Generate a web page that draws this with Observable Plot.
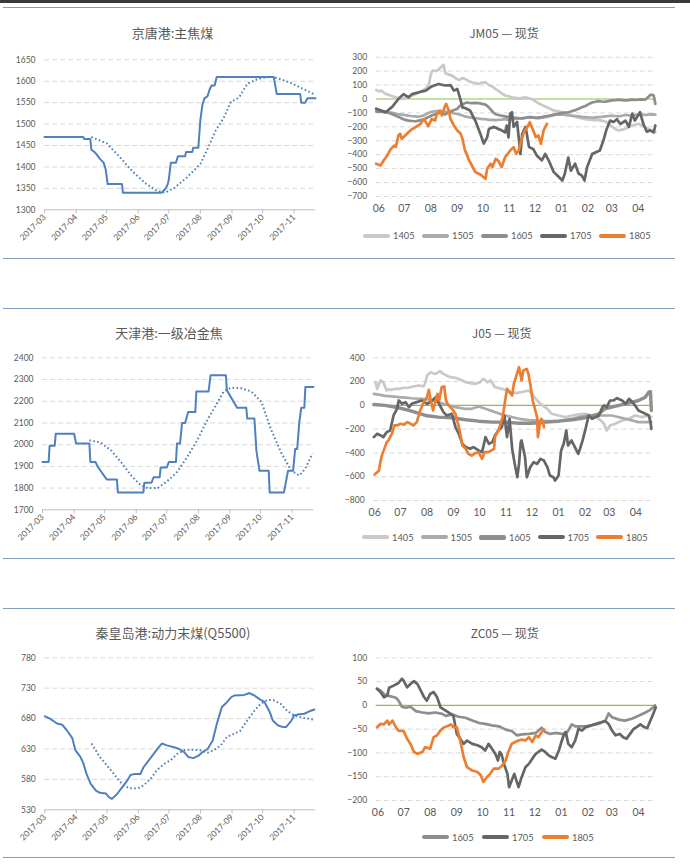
<!DOCTYPE html>
<html><head><meta charset="utf-8">
<script src="https://cdn.jsdelivr.net/npm/d3@7"></script>
<script src="https://cdn.jsdelivr.net/npm/@observablehq/plot@0.6"></script>
<style>
body{margin:0;background:#fff;font-family:Lato,"Noto Sans CJK SC",sans-serif;}
#page{position:relative;width:690px;height:868px;overflow:hidden;background:#fff;}
.topband{position:absolute;left:0;top:0;width:690px;height:3px;background:#3a3a3a;}
.sep{position:absolute;left:3px;width:672px;height:0;border-top:1.5px solid #7f9dbf;}
.title{position:absolute;transform:translateX(-50%);color:#595959;white-space:nowrap;font-family:"Noto Sans CJK SC",sans-serif;line-height:16px;}
.panel{position:absolute;}
.legend{position:absolute;display:flex;align-items:center;height:12px;font-family:Lato,sans-serif;font-size:9.3px;color:#595959;}
.legend .item{display:inline-flex;align-items:center;}
.legend .sw{display:inline-block;width:27px;height:4px;border-radius:2px;margin-right:3px;}
</style>
</head><body>
<div id="page"><div class="topband"></div></div>
<script>
// ---------- left panels: dates (2017, MM-DD) and prices ----------
const leftMonthLabels = ["2017-03","2017-04","2017-05","2017-06","2017-07","2017-08","2017-09","2017-10","2017-11"];

const jtTicks = [1300,1350,1400,1450,1500,1550,1600,1650];
const jtSpot = [["03-01",1470],["04-08",1470],["04-09",1465],["04-15",1465],["04-16",1440],["04-19",1435],["04-21",1430],["04-24",1420],["04-28",1410],["04-30",1395],["05-02",1360],["05-16",1360],["05-17",1340],["06-24",1340],["06-26",1345],["06-28",1350],["06-30",1360],["07-01",1370],["07-03",1410],["07-08",1410],["07-10",1425],["07-17",1425],["07-18",1435],["07-24",1435],["07-25",1445],["07-30",1445],["08-01",1510],["08-03",1545],["08-05",1560],["08-08",1565],["08-10",1580],["08-12",1590],["08-15",1590],["08-17",1610],["10-12",1610],["10-15",1570],["11-07",1570],["11-08",1550],["11-12",1550],["11-14",1560],["11-22",1560]];
const jtAvg = [["04-16",1470],["05-01",1455],["05-14",1423],["05-27",1388],["06-09",1360],["06-19",1345],["06-27",1340],["07-06",1350],["07-19",1376],["08-01",1407],["08-08",1442],["08-16",1485],["08-24",1515],["08-31",1552],["09-08",1562],["09-16",1594],["09-26",1605],["10-06",1610],["10-12",1610],["10-29",1596],["11-22",1568]];

const tjTicks = [1700,1800,1900,2000,2100,2200,2300,2400];
const tjSpot = [["03-01",1920],["03-07",1920],["03-08",1995],["03-13",1995],["03-14",2050],["04-01",2050],["04-03",2005],["04-16",2005],["04-17",1920],["04-22",1920],["04-24",1900],["04-27",1880],["04-30",1860],["05-03",1840],["05-13",1840],["05-14",1780],["06-08",1780],["06-09",1825],["06-16",1825],["06-18",1850],["06-24",1850],["06-25",1895],["07-01",1895],["07-03",1920],["07-10",1920],["07-11",2005],["07-14",2005],["07-16",2100],["07-19",2100],["07-22",2150],["07-29",2150],["07-30",2245],["08-11",2245],["08-13",2320],["08-28",2320],["08-29",2250],["09-08",2170],["09-17",2170],["09-18",2120],["09-25",2120],["09-27",1970],["09-30",1880],["10-09",1880],["10-10",1780],["10-24",1780],["10-28",1880],["11-02",1880],["11-04",1980],["11-06",1980],["11-08",2100],["11-10",2170],["11-13",2170],["11-14",2265],["11-22",2265]];
const tjAvg = [["04-16",2020],["04-27",2010],["05-07",1975],["05-17",1920],["05-27",1858],["06-05",1815],["06-12",1800],["06-22",1800],["07-01",1830],["07-11",1873],["07-21",1943],["07-31",2022],["08-10",2115],["08-20",2196],["08-26",2246],["09-02",2262],["09-12",2260],["09-22",2245],["10-02",2196],["10-11",2073],["10-21",1966],["10-31",1881],["11-08",1858],["11-14",1890],["11-21",1960]];

const qhdTicks = [530,580,630,680,730,780];
const qhdSpot = [["03-01",684],["03-06",680],["03-13",672],["03-18",670],["03-23",660],["03-28",648],["03-31",628],["04-05",617],["04-08",606],["04-11",589],["04-15",573],["04-20",562],["04-24",558],["04-30",557],["05-03",551],["05-06",548],["05-11",556],["05-16",567],["05-21",578],["05-24",587],["05-28",589],["06-03",589],["06-06",600],["06-11",611],["06-16",622],["06-21",633],["06-24",639],["06-29",636],["07-06",633],["07-11",630],["07-16",625],["07-20",617],["07-25",615],["07-30",619],["08-03",625],["08-08",630],["08-13",644],["08-17",671],["08-22",699],["08-27",707],["08-31",715],["09-03",718],["09-13",719],["09-18",722],["09-23",718],["09-28",712],["10-03",707],["10-08",691],["10-11",677],["10-16",669],["10-21",666],["10-24",666],["10-29",676],["11-01",685],["11-06",687],["11-11",688],["11-16",692],["11-21",695]];
const qhdAvg = [["04-16",639],["04-24",617],["05-05",595],["05-14",576],["05-22",566],["05-31",565],["06-06",570],["06-13",581],["06-19",595],["06-26",605],["07-03",612],["07-09",622],["07-16",628],["07-22",629],["08-01",628],["08-08",624],["08-14",628],["08-21",636],["08-27",650],["09-03",655],["09-09",660],["09-16",677],["09-23",693],["09-29",704],["10-06",711],["10-12",710],["10-19",704],["10-25",693],["11-01",685],["11-11",681],["11-21",678]];

// ---------- right panels: [days since 1 June, basis] ----------
const rightMonthLabels = ["06","07","08","09","10","11","12","01","02","03","04"];
const rightMonthDays = [0,30,61,92,122,153,183,214,245,273,304];

const jmTicks = [-700,-600,-500,-400,-300,-200,-100,0,100,200,300];
const jm1405 = [[-3,65],[0,55],[3,60],[6,45],[9,35],[12,28],[16,20],[20,12],[24,5],[27,0],[31,8],[35,15],[39,25],[43,35],[47,45],[51,60],[54,70],[57,85],[59,110],[60,150],[62,195],[64,205],[67,200],[70,210],[73,230],[76,245],[77,215],[78,185],[82,175],[86,168],[90,150],[94,135],[98,150],[101,145],[105,130],[109,120],[113,115],[117,108],[121,118],[125,120],[129,100],[133,90],[137,70],[140,58],[144,40],[148,25],[152,20],[156,12],[160,8],[164,5],[168,8],[172,12],[176,5],[179,0],[183,-15],[187,-30],[191,-42],[195,-54],[199,-65],[203,-78],[207,-85],[211,-88],[215,-95],[218,-100],[222,-110],[226,-120],[230,-128],[234,-135],[238,-140],[242,-145],[246,-148],[250,-150],[254,-152],[257,-150],[261,-155],[265,-160],[269,-175],[273,-197],[277,-215],[281,-226],[285,-220],[289,-214],[293,-200],[296,-190],[300,-185],[304,-178],[308,-190],[312,-202],[316,-215],[320,-226],[324,-238]];
const jm1505 = [[-3,-75],[4,-85],[8,-90],[12,-95],[16,-100],[22,-108],[27,-112],[33,-118],[37,-122],[43,-125],[47,-128],[51,-120],[55,-112],[58,-100],[62,-92],[66,-88],[70,-85],[74,-95],[78,-90],[82,-98],[86,-100],[90,-106],[94,-110],[98,-118],[101,-125],[105,-130],[109,-135],[113,-138],[117,-140],[121,-145],[125,-145],[129,-150],[133,-150],[137,-152],[140,-150],[144,-148],[148,-145],[152,-150],[156,-148],[160,-142],[164,-140],[168,-138],[172,-135],[176,-132],[179,-130],[183,-135],[187,-140],[191,-135],[195,-130],[199,-125],[203,-120],[207,-112],[211,-110],[215,-112],[218,-115],[222,-118],[226,-120],[230,-122],[234,-125],[238,-128],[242,-130],[246,-132],[250,-135],[254,-132],[257,-130],[261,-128],[265,-125],[269,-122],[273,-120],[277,-122],[281,-125],[285,-120],[289,-115],[293,-118],[296,-120],[300,-115],[304,-110],[308,-112],[312,-115],[316,-112],[320,-110],[324,-112]];
const jm1605 = [[-3,-90],[4,-92],[8,-95],[12,-100],[16,-110],[22,-125],[27,-140],[31,-150],[35,-155],[39,-158],[43,-160],[47,-155],[51,-150],[55,-140],[58,-130],[62,-118],[66,-110],[70,-100],[74,-105],[78,-110],[82,-95],[86,-85],[90,-75],[92,-70],[95,-50],[98,-40],[101,-30],[103,-25],[106,-28],[109,-30],[113,-28],[117,-30],[121,-35],[125,-40],[128,-55],[131,-75],[134,-95],[137,-110],[140,-115],[144,-120],[148,-125],[152,-130],[156,-132],[160,-135],[164,-138],[168,-140],[172,-135],[176,-130],[180,-132],[184,-135],[188,-132],[191,-130],[195,-125],[199,-120],[203,-115],[207,-110],[211,-105],[215,-100],[218,-98],[222,-95],[226,-88],[230,-80],[234,-70],[238,-60],[242,-50],[245,-40],[248,-30],[250,-25],[254,-20],[257,-15],[261,-18],[265,-20],[269,-15],[273,-10],[277,-8],[281,-5],[285,-8],[289,-10],[293,-8],[296,-5],[300,-6],[304,-5],[308,-3],[312,-5],[314,5],[316,15],[318,30],[320,30],[322,25],[324,-35]];
const jm1705 = [[-3,-70],[8,-95],[16,-55],[23,0],[29,35],[35,12],[39,35],[47,48],[55,60],[62,90],[70,108],[78,97],[84,100],[88,60],[92,72],[96,-10],[98,-60],[101,-65],[107,-83],[113,-155],[119,-250],[123,-320],[127,-275],[129,-215],[135,-200],[140,-215],[144,-225],[148,-240],[150,-190],[152,-275],[154,-105],[156,-95],[158,-200],[162,-165],[166,-395],[168,-250],[172,-200],[176,-345],[181,-360],[185,-405],[191,-440],[195,-395],[199,-440],[205,-525],[211,-560],[215,-585],[218,-535],[222,-420],[225,-515],[230,-465],[234,-535],[238,-550],[241,-585],[244,-490],[250,-395],[255,-380],[259,-370],[263,-300],[267,-215],[271,-155],[275,-165],[279,-145],[283,-180],[289,-155],[293,-200],[297,-105],[300,-155],[306,-95],[310,-180],[314,-235],[318,-225],[322,-240],[324,-190]];
const jm1805 = [[-3,-465],[2,-477],[6,-440],[10,-405],[14,-360],[18,-335],[20,-345],[23,-262],[25,-250],[27,-285],[31,-262],[37,-226],[43,-202],[49,-178],[53,-143],[58,-197],[62,-143],[66,-155],[68,-107],[72,-83],[74,-119],[77,-59],[79,-35],[82,-83],[84,-143],[88,-190],[92,-226],[96,-250],[98,-286],[101,-370],[103,-394],[105,-430],[109,-477],[113,-525],[119,-542],[125,-573],[127,-501],[131,-465],[133,-489],[137,-430],[140,-442],[144,-489],[148,-418],[154,-370],[158,-346],[161,-394],[164,-370],[167,-298],[170,-238],[174,-202],[176,-178],[177,-167],[181,-226],[184,-274],[187,-262],[190,-322],[193,-226],[197,-178]];

const jTicks = [-800,-600,-400,-200,0,200,400];
const j1405 = [[1,195],[3,139],[5,180],[7,209],[9,200],[10,195],[12,160],[14,125],[16,135],[20,131],[24,140],[28,139],[34,148],[40,150],[45,159],[51,167],[57,160],[59,190],[61,251],[65,279],[68,270],[71,265],[76,288],[78,275],[80,265],[86,243],[90,235],[94,232],[100,215],[106,195],[111,187],[117,181],[123,195],[125,215],[127,223],[131,195],[135,209],[140,153],[148,139],[156,120],[164,103],[171,111],[179,125],[183,97],[189,41],[195,0],[201,-30],[206,-71],[214,-85],[222,-99],[230,-85],[237,-76],[245,-71],[253,-85],[261,-113],[267,-155],[270,-211],[274,-169],[280,-155],[288,-127],[296,-113],[303,-85],[311,-99],[319,-85],[322,-99]];
const j1505 = [[-1,97],[5,90],[12,80],[20,75],[28,69],[36,65],[43,60],[55,55],[63,50],[74,27],[82,10],[94,-15],[100,-22],[106,-29],[113,-29],[121,-10],[129,-29],[140,-57],[152,-85],[168,-113],[183,-127],[199,-133],[214,-133],[230,-113],[245,-85],[261,-85],[276,-85],[292,-113],[307,-141],[322,-141]];
const j1605 = [[-1,7],[12,0],[28,-20],[43,-48],[59,-85],[74,-99],[90,-104],[106,-121],[121,-133],[137,-141],[152,-141],[168,-150],[183,-150],[199,-141],[214,-133],[230,-121],[245,-104],[261,-71],[268,-29],[276,-15],[284,0],[292,13],[300,27],[307,41],[315,69],[319,111],[321,115],[322,-43]];
const j1705 = [[-1,-267],[3,-239],[7,-253],[10,-267],[14,-225],[18,-211],[22,-85],[26,-29],[28,41],[32,13],[36,27],[40,-15],[43,13],[49,27],[55,41],[61,13],[67,41],[71,69],[74,27],[80,-57],[84,-85],[90,-71],[94,-183],[98,-239],[102,-323],[106,-351],[111,-365],[115,-351],[121,-379],[125,-393],[129,-267],[133,-323],[137,-309],[140,-253],[144,-211],[148,-183],[151,-85],[154,-267],[157,-113],[160,-365],[163,-492],[166,-604],[168,-492],[170,-309],[171,-295],[175,-436],[177,-604],[181,-520],[185,-478],[189,-492],[193,-450],[197,-464],[201,-520],[204,-590],[208,-604],[210,-632],[214,-590],[217,-379],[220,-323],[223,-211],[225,-337],[229,-295],[233,-351],[237,-407],[239,-365],[242,-295],[245,-211],[249,-85],[253,-113],[257,-99],[261,-85],[265,-15],[267,0],[270,-15],[274,41],[278,41],[282,60],[288,41],[292,13],[296,55],[300,27],[303,0],[307,-43],[311,-57],[315,-71],[319,-85],[321,-141],[322,-197]];
const j1805 = [[0,-581],[3,-562],[5,-548],[7,-464],[9,-408],[12,-351],[14,-309],[16,-295],[20,-239],[23,-169],[26,-169],[30,-155],[34,-162],[38,-141],[42,-155],[45,-169],[49,-141],[53,-43],[57,27],[61,69],[63,131],[65,55],[68,-43],[71,41],[73,97],[75,41],[78,153],[81,159],[83,41],[86,0],[90,-29],[94,-71],[98,-183],[100,-253],[102,-337],[106,-365],[109,-408],[113,-422],[117,-402],[121,-393],[125,-450],[128,-393],[132,-393],[136,-379],[139,-365],[140,-267],[144,-211],[146,-169],[149,-99],[151,0],[154,139],[157,111],[160,83],[162,181],[165,251],[168,321],[171,209],[173,293],[177,307],[179,265],[181,181],[184,41],[187,-43],[189,-99],[190,-267],[192,-169],[194,-113],[196,-141],[197,-183]];

const zcTicks = [-200,-150,-100,-50,0,50,100];
const zc1605 = [[-1,35],[3,31],[9,21],[15,19],[21,16],[24,10],[28,-3],[32,-5],[38,-3],[44,-12],[52,-15],[59,-17],[67,-15],[75,-18],[79,-22],[87,-19],[94,-24],[102,-26],[110,-32],[118,-37],[125,-39],[133,-42],[141,-44],[149,-51],[156,-54],[162,-63],[168,-61],[176,-60],[184,-58],[191,-47],[195,-56],[201,-60],[207,-58],[215,-60],[218,-63],[222,-53],[226,-40],[230,-44],[234,-44],[242,-44],[249,-42],[257,-39],[265,-33],[269,-17],[273,-25],[281,-30],[288,-32],[296,-28],[304,-22],[312,-15],[317,-10],[321,-4],[323,0]];
const zc1705 = [[-1,35],[3,28],[7,17],[11,21],[13,37],[19,42],[24,47],[28,56],[30,52],[34,38],[38,45],[42,51],[46,45],[50,31],[54,17],[57,10],[61,24],[65,28],[69,17],[73,-4],[79,-11],[85,-18],[88,-22],[92,-60],[96,-70],[100,-81],[104,-74],[110,-81],[116,-84],[121,-88],[125,-95],[129,-81],[133,-91],[137,-102],[140,-116],[142,-98],[144,-102],[147,-123],[151,-144],[153,-172],[156,-158],[159,-144],[162,-161],[164,-172],[167,-154],[172,-130],[176,-123],[180,-112],[184,-102],[187,-98],[191,-93],[195,-98],[199,-105],[203,-109],[207,-112],[211,-95],[214,-77],[217,-60],[219,-56],[222,-81],[226,-88],[230,-74],[234,-49],[238,-53],[242,-46],[249,-42],[257,-37],[265,-33],[269,-39],[273,-53],[277,-63],[282,-60],[286,-67],[290,-70],[294,-60],[298,-50],[302,-45],[306,-40],[310,-45],[314,-48],[317,-35],[321,-18],[324,-4]];
const zc1805 = [[-1,-46],[3,-39],[7,-40],[11,-32],[13,-40],[17,-32],[21,-46],[24,-53],[30,-54],[34,-70],[38,-81],[42,-98],[46,-102],[52,-98],[55,-88],[61,-91],[65,-67],[69,-63],[73,-53],[77,-46],[81,-44],[85,-40],[88,-46],[92,-46],[96,-74],[100,-109],[104,-130],[110,-137],[116,-140],[120,-147],[123,-161],[127,-151],[131,-144],[135,-133],[141,-133],[145,-126],[149,-116],[152,-98],[156,-81],[160,-77],[164,-74],[168,-72],[172,-74],[176,-67],[180,-77],[184,-63],[187,-67],[191,-56],[194,-51]];

// ---------- drawing ----------
const page = document.getElementById("page");
const BLUE = "#4f80bf";
const GRAY = {"1405":"#c9c9c9","1505":"#ababab","1605":"#8e8e8e","1705":"#666666","1805":"#ed7d31"};

function add(el, css) { Object.assign(el.style, css); page.appendChild(el); return el; }
function sep(y) { const d = document.createElement("div"); d.className = "sep"; add(d, {top: y + "px"}); }
[7, 258, 308, 558, 608, 857].forEach(sep);

function title(text, cx, cy, size) {
  const d = document.createElement("div"); d.className = "title"; d.textContent = text;
  add(d, {left: cx + "px", top: (cy - 8) + "px", fontSize: size + "px"});
}

const parseLeft = s => new Date(2017, +s.slice(0, 2) - 1, +s.slice(3, 5));

function leftChart(pos, solid, avg, ticks, m) {
  const xTicks = leftMonthLabels.map(s => new Date(+s.slice(0, 4), +s.slice(5, 7) - 1, 1));
  const svg = Plot.plot({
    width: 330, height: m.h, marginTop: m.t, marginBottom: m.b, marginLeft: m.l, marginRight: m.r,
    style: {background: "transparent", fontFamily: "Lato, sans-serif", fontSize: "8.5px", color: "#595959", overflow: "visible"},
    x: {type: "time", domain: [new Date(2017, 2, 1), new Date(2017, 10, 22)]},
    y: {domain: [ticks[0], ticks[ticks.length - 1]]},
    marks: [
      Plot.gridY(ticks.slice(1), {stroke: "#d9d9d9", strokeOpacity: 1, strokeDasharray: "5,3"}),
      Plot.ruleY([ticks[0]], {stroke: "#bfbfbf"}),
      Plot.axisY(ticks, {tickSize: 0, tickPadding: 9, label: null, fill: "#595959", fontSize: 8.5, tickFormat: d3.format("d")}),
      Plot.axisX(xTicks, {tickSize: 4, tickPadding: 2, tickRotate: -45, tickFormat: d3.timeFormat("%Y-%m"), label: null, stroke: "#bfbfbf", fill: "#595959", fontSize: 8.5}),
      Plot.line(avg, {x: d => parseLeft(d[0]), y: d => d[1], stroke: BLUE, strokeWidth: 2, strokeDasharray: "1.6,2.4", strokeLinecap: "butt"}),
      Plot.line(solid, {x: d => parseLeft(d[0]), y: d => d[1], stroke: BLUE, strokeWidth: 2, strokeLinejoin: "round"})
    ]
  });
  svg.classList.add("panel");
  add(svg, {left: pos[0] + "px", top: pos[1] + "px"});
}

function rightChart(pos, series, ticks, xDomain, m) {
  const svg = Plot.plot({
    width: 330, height: m.h, marginTop: m.t, marginBottom: m.b, marginLeft: m.l, marginRight: m.r,
    style: {background: "transparent", fontFamily: "Lato, sans-serif", fontSize: "8.6px", color: "#595959", overflow: "visible"},
    x: {domain: xDomain},
    y: {domain: [ticks[0], ticks[ticks.length - 1]]},
    marks: [
      Plot.gridY(ticks.filter(t => t !== 0), {stroke: "#d9d9d9", strokeOpacity: 1, strokeDasharray: "5,3"}),
      Plot.axisY(ticks, {tickSize: 0, tickPadding: 9, label: null, fill: "#595959", fontSize: 8.6}),
      Plot.axisX(rightMonthDays, {tickSize: 0, tickPadding: 8, label: null, fill: "#595959", fontSize: 10.5,
        tickFormat: d => rightMonthLabels[rightMonthDays.indexOf(d)]}),
      Plot.ruleY([0], {stroke: "#8cc04e", strokeWidth: 1.2}),
      ...series.map(s => Plot.line(s.data, {x: d => d[0], y: d => d[1], stroke: GRAY[s.name], strokeWidth: s.w || 2.7, strokeLinejoin: "round"}))
    ]
  });
  svg.classList.add("panel");
  add(svg, {left: pos[0] + "px", top: pos[1] + "px"});
}

function legend(names, left, cy, pitch, widths) {
  const d = document.createElement("div"); d.className = "legend";
  names.forEach((n, i) => {
    const it = document.createElement("span"); it.className = "item"; it.style.width = pitch + "px";
    const sw = document.createElement("span"); sw.className = "sw"; sw.style.background = GRAY[n];
    if (widths && widths[i]) sw.style.height = widths[i] + "px";
    const tx = document.createElement("span"); tx.textContent = n;
    it.appendChild(sw); it.appendChild(tx); d.appendChild(it);
  });
  add(d, {left: left + "px", top: (cy - 6) + "px"});
}

// Row 1
title("京唐港:主焦煤", 172.5, 33, 13);
leftChart([0, 50], jtSpot, jtAvg, jtTicks, {h: 215, t: 9.3, b: 55.7, l: 44, r: 15});
title("JM05 — 现货", 504, 33, 12);
rightChart([345, 45], [
  {name: "1405", data: jm1405}, {name: "1505", data: jm1505}, {name: "1605", data: jm1605},
  {name: "1705", data: jm1705}, {name: "1805", data: jm1805}
], jmTicks, [-3, 325], {h: 175, t: 11.7, b: 24, l: 30.7, r: 19.3});
legend(["1405","1505","1605","1705","1805"], 363, 235.5, 59);

// Row 2
title("天津港:一级冶金焦", 169, 333, 13);
leftChart([0, 350], tjSpot, tjAvg, tjTicks, {h: 215, t: 7.3, b: 55.7, l: 42, r: 17});
title("J05 — 现货", 501.7, 333, 12);
rightChart([345, 345], [
  {name: "1405", data: j1405}, {name: "1505", data: j1505}, {name: "1605", data: j1605, w: 3.4},
  {name: "1705", data: j1705}, {name: "1805", data: j1805}
], jTicks, [-1, 323], {h: 180, t: 12.3, b: 25, l: 28.3, r: 23.3});
legend(["1405","1505","1605","1705","1805"], 362, 537.3, 58.5, [0, 0, 5, 0, 0]);

// Row 3
title("秦皇岛港:动力末煤(Q5500)", 173, 633, 13);
leftChart([0, 650], qhdSpot, qhdAvg, qhdTicks, {h: 205, t: 7.3, b: 45.7, l: 44.3, r: 15});
title("ZC05 — 现货", 504.7, 633, 12);
rightChart([345, 645], [
  {name: "1605", data: zc1605}, {name: "1705", data: zc1705}, {name: "1805", data: zc1805}
], zcTicks, [-2, 324.5], {h: 180, t: 12.3, b: 25, l: 30.7, r: 19.3});
legend(["1605","1705","1805"], 422, 837.3, 60);
</script>
</body></html>
